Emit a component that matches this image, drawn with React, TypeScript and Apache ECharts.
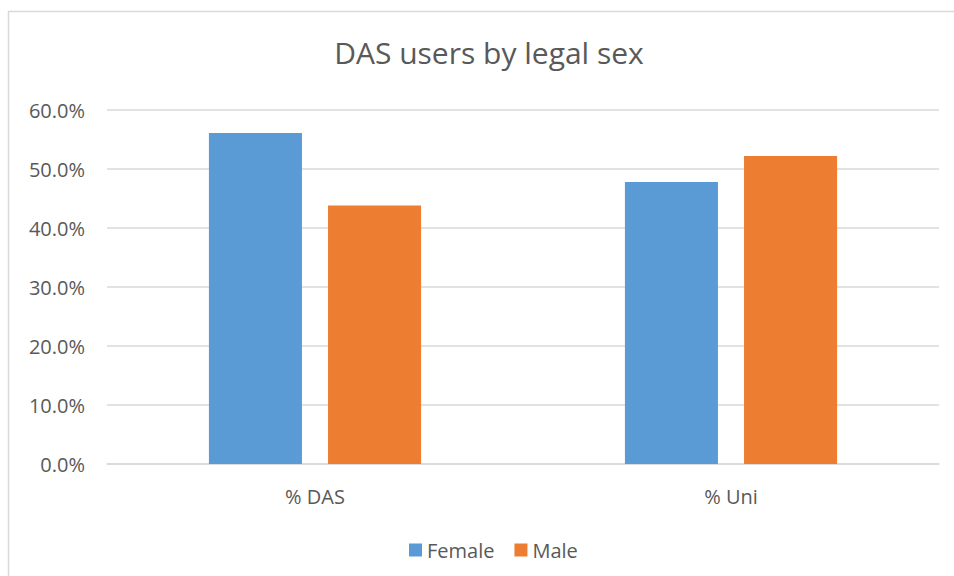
import React, { useEffect, useRef } from "react";
import * as echarts from "echarts";

const categories = ["% DAS", "% Uni"];
const femaleValues = [56.1, 47.8];
const maleValues = [43.8, 52.2];
const yTicks = [0, 10, 20, 30, 40, 50, 60];

const FONT = "'Open Sans', sans-serif";
const TEXT = "#595959";
const GRID = "#D9D9D9";

export default function App() {
  const ref = useRef<HTMLDivElement>(null);
  useEffect(() => {
    if (!ref.current) return;
    const chart = echarts.init(ref.current, undefined, { renderer: "svg" });
    chart.setOption({
      animation: false,
      backgroundColor: "#ffffff",
      title: {
        text: "DAS users by legal sex",
        left: 484,
        top: 32,
        textAlign: "center",
        textStyle: { fontFamily: FONT, fontSize: 30, fontWeight: "normal", color: TEXT },
      },
      graphic: [
        {
          type: "rect",
          shape: { x: 8.5, y: 11.5, width: 1000, height: 700 },
          style: { fill: "none", stroke: GRID, lineWidth: 1.5 },
          silent: true,
        },
      ],
      legend: {
        data: ["Female", "Male"],
        left: 404,
        top: 535,
        itemWidth: 13,
        itemHeight: 13,
        itemGap: 20,
        icon: "rect",
        textStyle: { fontFamily: FONT, fontSize: 20, color: TEXT },
      },
      grid: { left: 107, right: 15, top: 110, bottom: 112, containLabel: false },
      xAxis: {
        type: "category",
        data: categories,
        axisLine: { show: true, lineStyle: { color: GRID, width: 1.5 } },
        axisTick: { show: false },
        axisLabel: { fontFamily: FONT, fontSize: 20, color: TEXT, margin: 22 },
      },
      yAxis: {
        type: "value",
        min: yTicks[0],
        max: yTicks[yTicks.length - 1],
        interval: 10,
        axisLine: { show: false },
        axisTick: { show: false },
        splitLine: { lineStyle: { color: GRID, width: 1.5 } },
        axisLabel: {
          fontFamily: FONT,
          fontSize: 20,
          color: TEXT,
          margin: 22,
          formatter: (v: number) => v.toFixed(1) + "%",
        },
      },
      series: [
        {
          name: "Female",
          type: "bar",
          data: femaleValues,
          itemStyle: { color: "#5B9BD5" },
          barGap: "28%",
          barCategoryGap: "49%",
        },
        {
          name: "Male",
          type: "bar",
          data: maleValues,
          itemStyle: { color: "#ED7D31" },
          barGap: "28%",
          barCategoryGap: "49%",
        },
      ],
    });
    return () => chart.dispose();
  }, []);
  return (
    <div
      ref={ref}
      style={{ position: "fixed", left: 0, top: 0, width: 954, height: 576 }}
    />
  );
}
